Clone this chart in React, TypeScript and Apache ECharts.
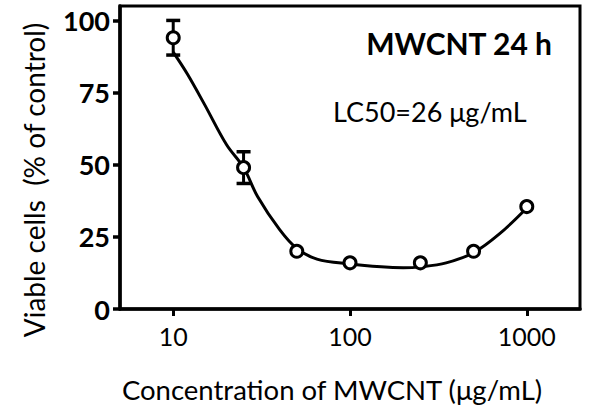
import React, { useEffect, useRef } from "react";
import * as echarts from "echarts";

const concentrations = [10, 25, 50, 100, 250, 500, 1000];
const viability = [94, 49, 20, 16, 16, 20, 35.5];
const errorConc = [10, 25];
const errorMean = [94, 49];
const errorSd = [6, 5.5];
const fitConc = [10, 12, 15, 20, 25, 30, 40, 50, 65, 100, 150, 200, 250, 350, 500, 700, 1000];
const fitValue = [89, 81.5, 71, 57, 49, 39, 27.5, 21, 17.3, 15.6, 14.6, 14.3, 14.6, 16, 19.5, 26, 35];
const xTicks = [10, 100, 1000];
const yTicks = [0, 25, 50, 75, 100];

const FONT = "Lato";

export default function App() {
  const ref = useRef<HTMLDivElement>(null);
  useEffect(() => {
    if (!ref.current) return;
    const chart = echarts.init(ref.current, null, { renderer: "svg" });
    const errData = errorConc.map((c, i) => [c, errorMean[i] - errorSd[i], errorMean[i] + errorSd[i]]);
    chart.setOption({
      animation: false,
      backgroundColor: "#fff",
      grid: { left: 120, top: 6, right: 12, bottom: 96, show: true, borderColor: "#000", borderWidth: 3, backgroundColor: "transparent" },
      xAxis: {
        type: "log",
        logBase: 10,
        min: 5,
        max: 2000,
        axisLine: { show: true, lineStyle: { color: "#000", width: 3.5 } },
        axisTick: { show: true, length: 7, lineStyle: { color: "#000", width: 3 }, customValues: xTicks },
        axisLabel: {
          customValues: xTicks,
          color: "#000",
          fontFamily: FONT,
          fontSize: 25,
          margin: 14,
          formatter: (v: number) => String(Math.round(v)),
        },
        splitLine: { show: false },
        minorTick: { show: false },
      },
      yAxis: {
        type: "value",
        min: 0,
        max: 105,
        interval: 25,
        axisLine: { show: true, lineStyle: { color: "#000", width: 3.5 } },
        axisTick: { show: true, length: 7, lineStyle: { color: "#000", width: 3.5 }, customValues: yTicks },
        axisLabel: {
          customValues: yTicks,
          color: "#000",
          fontFamily: FONT,
          fontWeight: "bold",
          fontSize: 27,
          margin: 10,
        },
        splitLine: { show: false },
      },
      series: [
        {
          type: "line",
          data: fitConc.map((c, i) => [c, fitValue[i]]),
          smooth: 0.35,
          showSymbol: false,
          symbol: "none",
          lineStyle: { color: "#000", width: 3 },
          z: 2,
        },
        {
          type: "custom",
          data: errData,
          z: 3,
          renderItem: (params: any, api: any) => {
            const x = api.value(0);
            const lo = api.value(1);
            const hi = api.value(2);
            const pHi = api.coord([x, hi]);
            const pLo = api.coord([x, lo]);
            const hw = 7;
            const st = { stroke: "#000", lineWidth: 3 };
            return {
              type: "group",
              children: [
                { type: "line", shape: { x1: pHi[0], y1: pHi[1], x2: pLo[0], y2: pLo[1] }, style: st },
                { type: "line", shape: { x1: pHi[0] - hw, y1: pHi[1], x2: pHi[0] + hw, y2: pHi[1] }, style: { stroke: "#000", lineWidth: 3.5 } },
                { type: "line", shape: { x1: pLo[0] - hw, y1: pLo[1], x2: pLo[0] + hw, y2: pLo[1] }, style: { stroke: "#000", lineWidth: 3.5 } },
              ],
            };
          },
        },
        {
          type: "scatter",
          data: concentrations.map((c, i) => [c, viability[i]]),
          symbol: "circle",
          symbolSize: 12,
          itemStyle: { color: "#fff", borderColor: "#000", borderWidth: 3, opacity: 1 },
          z: 4,
        },
      ],
      graphic: [
        {
          type: "text",
          x: 34,
          y: 180,
          rotation: Math.PI / 2,
          style: {
            text: "Viable cells  (% of control)",
            fill: "#000",
            font: `28px ${FONT}`,
            align: "center",
            verticalAlign: "middle",
          },
        },
        {
          type: "text",
          x: 332,
          y: 389,
          style: {
            text: "Concentration of MWCNT (μg/mL)",
            fill: "#000",
            font: `27.5px ${FONT}`,
            align: "center",
            verticalAlign: "middle",
          },
        },
        {
          type: "text",
          x: 552,
          y: 43,
          style: {
            text: "MWCNT 24 h",
            fill: "#000",
            font: `bold 30px ${FONT}`,
            align: "right",
            verticalAlign: "middle",
          },
        },
        {
          type: "text",
          x: 333,
          y: 111,
          style: {
            text: "LC50=26 μg/mL",
            fill: "#000",
            font: `27px ${FONT}`,
            align: "left",
            verticalAlign: "middle",
          },
        },
      ],
    });
    return () => chart.dispose();
  }, []);
  return <div ref={ref} style={{ width: 592, height: 405, position: "fixed", left: 0, top: 0 }} />;
}
